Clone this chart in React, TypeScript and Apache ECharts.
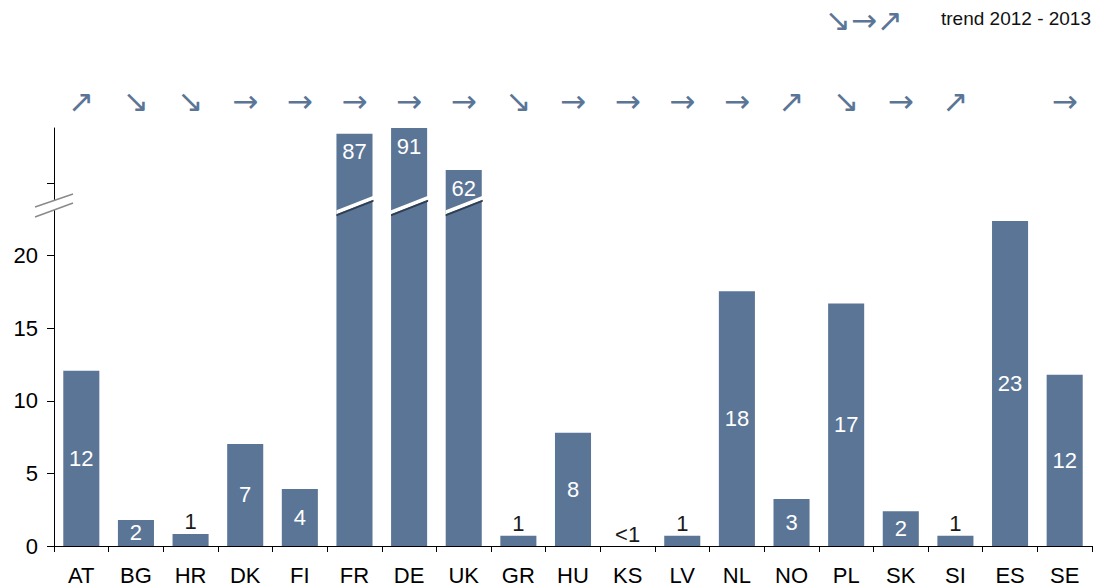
import React, { useEffect, useRef } from "react";
import * as echarts from "echarts";

const categories = ["AT", "BG", "HR", "DK", "FI", "FR", "DE", "UK", "GR", "HU", "KS", "LV", "NL", "NO", "PL", "SK", "SI", "ES", "SE"];
const values = [12.07, 1.8, 0.83, 7.03, 3.93, 87, 91, 62, 0.7, 7.8, 0, 0.7, 17.55, 3.24, 16.7, 2.4, 0.7, 22.4, 11.8];
const valueLabels = ["12", "2", "1", "7", "4", "87", "91", "62", "1", "8", "<1", "1", "18", "3", "17", "2", "1", "23", "12"];
const trends = ["up", "down", "down", "flat", "flat", "flat", "flat", "flat", "down", "flat", "flat", "flat", "flat", "up", "down", "flat", "up", "", "flat"];
const yTickValues = [0, 5, 10, 15, 20, 25];
const yLabelValues = [0, 5, 10, 15, 20];

// broken axis: values above BREAK_LIMIT are compressed into the upper segment
const BREAK_LIMIT = 25;
const BREAK_AT = 23.5; // where the break symbol is drawn
const UPPER_SCALE = 0.1;
const UPPER_SHIFT = 19.7;
const toDisplay = (v: number) => (v > BREAK_LIMIT ? UPPER_SHIFT + UPPER_SCALE * v : v);

const ARROWS: Record<string, string> = { up: "\u2197", down: "\u2198", flat: "\u2192", "": "" };

const BAR_COLOR = "#5b7596";
const ARROW_COLOR = "#5b7596";
const FONT = "'Liberation Sans Narrow', 'Arial Narrow', 'Liberation Sans', Arial, sans-serif";
const ARROW_FONT = "31px 'DejaVu Sans', sans-serif";
const BAR_WIDTH_RATIO = 0.66;

export default function App() {
  const ref = useRef<HTMLDivElement>(null);

  useEffect(() => {
    if (!ref.current) return;
    const chart = echarts.init(ref.current, null, { renderer: "svg" });
    const displayValues = values.map(toDisplay);
    const maxDisplay = Math.max(...displayValues);

    const barData = values.map((v, i) => {
      const broken = v > BREAK_LIMIT;
      const small = v < 1.5;
      return {
        value: displayValues[i],
        label: broken
          ? { position: "insideTop", distance: 7, color: "#ffffff" }
          : small
          ? { position: "top", distance: 1, color: "#1a1a1a" }
          : { position: "inside", color: "#ffffff" },
      };
    });

    const brokenData = values
      .map((v, i) => (v > BREAK_LIMIT ? [i, BREAK_AT] : null))
      .filter((d) => d !== null);

    const legendGraphics = [
      {
        type: "text",
        right: 194,
        top: 4,
        style: { text: "\u2198\u2192\u2197", fill: ARROW_COLOR, font: ARROW_FONT },
      },
      {
        type: "text",
        right: 6,
        top: 9,
        style: { text: "trend 2012 - 2013", fill: "#111", font: "19px " + FONT },
      },
    ];

    const option: any = {
      animation: false,
      grid: { left: 54, right: 5, top: 128, bottom: 42, containLabel: false },
      xAxis: [
        {
          type: "category",
          data: categories,
          axisLine: { show: true, lineStyle: { color: "#000", width: 1 } },
          axisTick: { show: true, length: 6, lineStyle: { color: "#000" } },
          axisLabel: { color: "#000", fontSize: 22, fontFamily: FONT, margin: 18 },
          splitLine: { show: false },
        },
        {
          type: "category",
          position: "top",
          data: categories,
          axisLine: { show: false },
          axisTick: { show: false },
          axisLabel: {
            color: ARROW_COLOR,
            fontSize: 31,
            fontFamily: "'DejaVu Sans', sans-serif",
            margin: 12,
            formatter: (_: string, idx: number) => ARROWS[trends[idx]],
          },
        },
      ],
      yAxis: {
        type: "value",
        min: 0,
        max: maxDisplay,
        interval: 5,
        axisLine: { show: true, lineStyle: { color: "#000", width: 1 } },
        axisTick: { show: true, length: 7, customValues: yTickValues, lineStyle: { color: "#000" } },
        axisLabel: { color: "#000", fontSize: 22, fontFamily: FONT, margin: 16, customValues: yLabelValues },
        splitLine: { show: false },
      },
      series: [
        {
          type: "bar",
          data: barData,
          barWidth: BAR_WIDTH_RATIO * 100 + "%",
          itemStyle: { color: BAR_COLOR },
          label: {
            show: true,
            fontSize: 22,
            fontFamily: FONT,
            formatter: (p: any) => valueLabels[p.dataIndex],
          },
        },
        {
          type: "custom",
          data: brokenData,
          z: 5,
          renderItem: (params: any, api: any) => {
            const c = api.coord([api.value(0), api.value(1)]);
            const bw = api.size([1, 0])[0] * BAR_WIDTH_RATIO;
            const xl = c[0] - bw / 2;
            const xr = c[0] + bw / 2 + 1;
            const rise = bw * 0.4;
            const yl = c[1] + rise / 2;
            const yr = c[1] - rise / 2;
            return {
              type: "group",
              children: [
                {
                  type: "polygon",
                  shape: { points: [[xl, yl - 2], [xr, yr - 2], [xr, yr + 2], [xl, yl + 2]] },
                  style: { fill: "#ffffff" },
                },
                {
                  type: "polygon",
                  shape: { points: [[xl, yl + 2], [xr, yr + 2], [xr, yr + 4], [xl, yl + 4]] },
                  style: { fill: "#2f3e52" },
                },
              ],
            };
          },
        },
      ],
      graphic: legendGraphics,
    };
    chart.setOption(option);

    // axis break symbol, positioned through the axis scales
    const yb = chart.convertToPixel({ yAxisIndex: 0 }, BREAK_AT) as number;
    const c0 = chart.convertToPixel({ xAxisIndex: 0 }, 0) as number;
    const c1 = chart.convertToPixel({ xAxisIndex: 0 }, 1) as number;
    const ax = c0 - (c1 - c0) / 2;
    chart.setOption({
      graphic: [
        ...legendGraphics,
        {
          type: "polygon",
          z: 100,
          shape: { points: [[ax - 19, yb + 2], [ax + 19, yb - 11], [ax + 19, yb - 2], [ax - 19, yb + 12]] },
          style: { fill: "#ffffff" },
        },
        {
          type: "line",
          z: 101,
          shape: { x1: ax - 19, y1: yb + 2, x2: ax + 19, y2: yb - 11 },
          style: { stroke: "#8a8a8a", lineWidth: 1.5 },
        },
        {
          type: "line",
          z: 101,
          shape: { x1: ax - 19, y1: yb + 12, x2: ax + 19, y2: yb - 2 },
          style: { stroke: "#8a8a8a", lineWidth: 1.5 },
        },
      ],
    });

    return () => chart.dispose();
  }, []);

  return <div ref={ref} style={{ width: 1097, height: 588, position: "absolute", left: 0, top: 0 }} />;
}
